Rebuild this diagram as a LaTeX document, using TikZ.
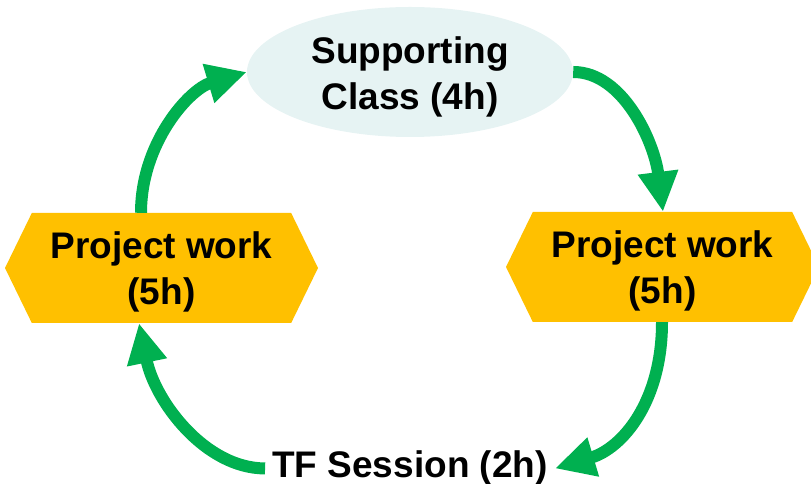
\documentclass[tikz,border=0pt]{standalone}
\usepackage{fontspec}
\setmainfont{Liberation Sans}
\usetikzlibrary{arrows.meta,shapes.symbols,shapes.geometric}
\definecolor{arrowgreen}{HTML}{00B050}
\definecolor{hexyellow}{HTML}{FFC000}
\definecolor{ellfill}{HTML}{E6F3F3}
\begin{document}
\begin{tikzpicture}[x=1pt,y=1pt,
  lbl/.style={font=\fontsize{37}{46}\selectfont\bfseries, align=center, text=black, inner sep=0pt},
  hexnode/.style={shape=signal, signal to=west and east, signal pointer angle=128, fill=hexyellow, minimum width=313pt, minimum height=110pt, inner sep=0pt},
  ellnode/.style={ellipse, fill=ellfill, minimum width=326pt, minimum height=130pt, inner sep=0pt},
  flow/.style={draw=arrowgreen, line width=12pt, -{Triangle[length=40pt,width=38pt]}}]
\useasboundingbox (0,0) rectangle (811,484);
\node[ellnode] (sc) at (410,412) {};
\node[lbl] (sctext) at ([yshift=-5pt]sc.center) {Supporting\\Class (4h)};
\node[hexnode] (lp) at (161.5,216) {};
\node[lbl] (lptext) at ([yshift=-4pt]lp.center) {Project work\\(5h)};
\node[hexnode] (rp) at (662.5,217) {};
\node[lbl] (rptext) at ([yshift=-4pt]rp.center) {Project work\\(5h)};
\node[lbl, inner sep=7pt, anchor=base] (tf) at (410,6) {TF Session (2h)};
\draw[flow] ([xshift=-20.5pt]lp.north) .. controls +(0,70) and +(-57.5,-17.2) .. (sc.west);
\draw[flow] (sc.east) .. controls +(50,0) and +(-8.7,69.4) .. ([xshift=0.5pt]rp.north);
\draw[flow] ([xshift=-0.5pt]rp.south) .. controls +(0,-80) and +(67,20) .. (tf.east);
\draw[flow] (tf.west) .. controls +(-60,0) and +(16,-78) .. ([xshift=-22.5pt]lp.south);
\end{tikzpicture}
\end{document}
